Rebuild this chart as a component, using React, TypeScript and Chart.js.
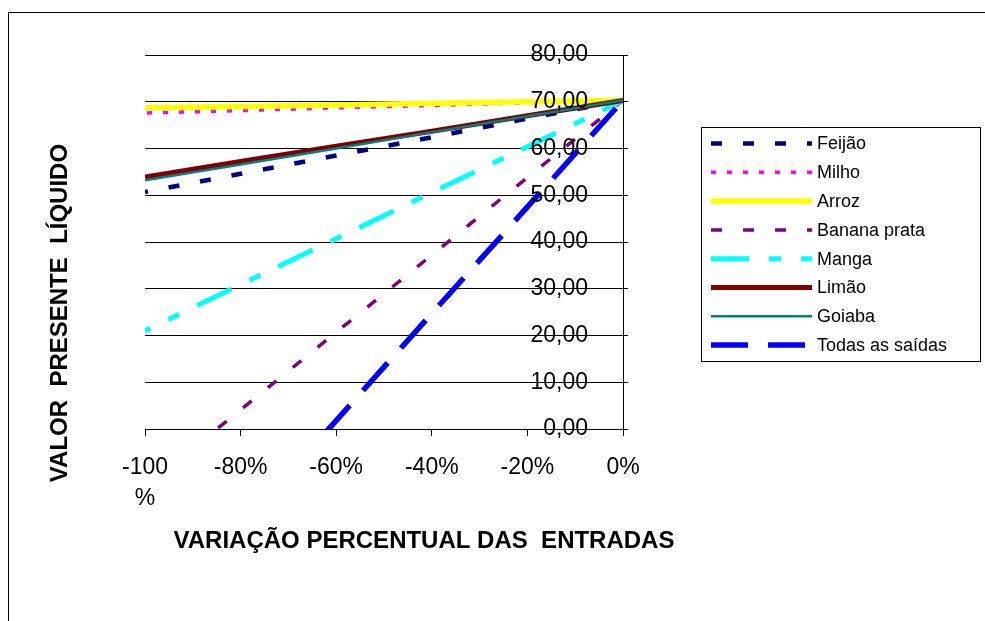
import React, { useEffect, useRef } from 'react';
import { Chart, registerables } from 'chart.js';

Chart.register(...registerables);

// Percentage change of the inflows (x axis)
const variacao = [-100, -80, -60, -40, -20, 0];
const xTickLabels: (string | string[])[] = [['-100', '%'], '-80%', '-60%', '-40%', '-20%', '0%'];

// Net present value for each scenario, one value per point of `variacao`
const feijao = [50.7, 54.6, 58.5, 62.4, 66.4, 70.3];
const milho = [67.6, 68.1, 68.7, 69.2, 69.8, 70.3];
const arroz = [68.7, 69.0, 69.3, 69.7, 70.0, 70.3];
const bananaPrata = [-12.4, 4.1, 20.7, 37.2, 53.8, 70.3];
const manga = [21.0, 30.9, 40.7, 50.6, 60.4, 70.3];
const limao = [53.9, 57.2, 60.5, 63.7, 67.0, 70.3];
const goiaba = [53.2, 56.6, 60.0, 63.5, 66.9, 70.3];
const todasSaidas = [-43.9, -21.0, 1.8, 24.7, 47.5, 70.3];

const FONT = '"Liberation Sans", Arial, sans-serif';

const series = [
  { label: 'Feijão', values: feijao, color: '#000080', width: 4.5, dash: [11, 21], offset: 8 },
  { label: 'Milho', values: milho, color: '#FF00FF', width: 3.5, dash: [5, 11], offset: 14 },
  { label: 'Arroz', values: arroz, color: '#FFFF00', width: 5.5, dash: [] as number[], offset: 0 },
  { label: 'Banana prata', values: bananaPrata, color: '#800080', width: 3.5, dash: [11, 21], offset: 2 },
  { label: 'Manga', values: manga, color: '#00FFFF', width: 5, dash: [38, 20, 12, 20], offset: 32 },
  { label: 'Limão', values: limao, color: '#800000', width: 5, dash: [] as number[], offset: 0 },
  { label: 'Goiaba', values: goiaba, color: '#008080', width: 2.5, dash: [] as number[], offset: 0 },
  { label: 'Todas as saídas', values: todasSaidas, color: '#0000FF', width: 5.5, dash: [37, 20], offset: 15 },
];

// Outer frame of the chart object
const framePlugin = {
  id: 'frame',
  beforeDraw(chart: Chart) {
    const ctx = chart.ctx;
    ctx.save();
    ctx.strokeStyle = '#000';
    ctx.lineWidth = 1;
    ctx.strokeRect(8.5, 12.5, 1200, 1000);
    ctx.restore();
  },
};

// Axis titles
const titlesPlugin = {
  id: 'axisTitles',
  afterDraw(chart: Chart) {
    const ctx = chart.ctx;
    ctx.save();
    ctx.fillStyle = '#000';
    ctx.font = `bold 24px ${FONT}`;
    ctx.textAlign = 'center';
    ctx.textBaseline = 'middle';
    ctx.fillText('VARIAÇÃO PERCENTUAL DAS  ENTRADAS', 424, 541);
    ctx.translate(60, 313);
    ctx.rotate(-Math.PI / 2);
    ctx.fillText('VALOR  PRESENTE  LÍQUIDO', 0, 0);
    ctx.restore();
  },
};

// Boxed legend with line samples on the right
const legendPlugin = {
  id: 'boxLegend',
  afterDraw(chart: Chart) {
    const ctx = chart.ctx;
    ctx.save();
    ctx.strokeStyle = '#000';
    ctx.lineWidth = 1;
    ctx.strokeRect(701.5, 127.5, 279, 234);
    ctx.font = `18px ${FONT}`;
    ctx.textAlign = 'left';
    ctx.textBaseline = 'middle';
    chart.data.datasets.forEach((ds: any, i: number) => {
      const y = 143.5 + i * 28.8;
      ctx.save();
      ctx.strokeStyle = ds.borderColor;
      ctx.lineWidth = ds.borderWidth;
      ctx.setLineDash(ds.borderDash || []);
      ctx.lineCap = 'butt';
      ctx.beginPath();
      ctx.moveTo(711, y);
      ctx.lineTo(812, y);
      ctx.stroke();
      ctx.restore();
      ctx.fillStyle = '#000';
      ctx.fillText(ds.label, 817, y + 1);
    });
    ctx.restore();
  },
};

export default function App() {
  const canvasRef = useRef<HTMLCanvasElement | null>(null);

  useEffect(() => {
    const canvas = canvasRef.current;
    if (!canvas) return;
    const chart = new Chart(canvas, {
      type: 'line',
      data: {
        datasets: series.map((s, i) => ({
          label: s.label,
          data: variacao.map((x, j) => ({ x, y: s.values[j] })),
          borderColor: s.color,
          backgroundColor: s.color,
          borderWidth: s.width,
          borderDash: s.dash,
          borderDashOffset: s.offset,
          borderCapStyle: 'butt',
          pointRadius: 0,
          pointHoverRadius: 0,
          fill: false,
          tension: 0,
          clip: 0,
          order: series.length - i,
        })),
      },
      options: {
        responsive: false,
        animation: false,
        events: [],
        layout: { padding: { left: 145, top: 55, right: 354, bottom: 82 } },
        plugins: {
          legend: { display: false },
          tooltip: { enabled: false },
          title: { display: false },
        },
        scales: {
          x: {
            type: 'linear',
            position: 'bottom',
            min: -100,
            max: 0,
            afterFit: (s: any) => {
              s.height = 110;
            },
            ticks: {
              stepSize: 20,
              color: '#000',
              font: { family: FONT, size: 23, lineHeight: 1.35 },
              padding: 16,
              maxRotation: 0,
              autoSkip: false,
              callback: (_v: any, i: number) => xTickLabels[i],
            },
            grid: { drawOnChartArea: false, drawTicks: true, tickLength: 7, color: '#000' },
            border: { display: true, color: '#000', width: 1 },
          },
          y: {
            type: 'linear',
            position: 'right',
            min: 0,
            max: 80,
            afterFit: (s: any) => {
              s.width = 8;
            },
            ticks: {
              stepSize: 10,
              mirror: true,
              padding: -35,
              z: 1,
              color: '#000',
              font: { family: FONT, size: 23 },
              callback: (v: any) => Number(v).toFixed(2).replace('.', ','),
            },
            grid: { color: '#000', lineWidth: 1, drawTicks: true, tickLength: 5 },
            border: { display: true, color: '#000', width: 1 },
          },
        },
      },
      plugins: [framePlugin, titlesPlugin, legendPlugin],
    } as any);
    return () => chart.destroy();
  }, []);

  return (
    <div style={{ position: 'fixed', left: 0, top: 0, width: 985, height: 621, background: '#fff' }}>
      <canvas ref={canvasRef} width={985} height={621} style={{ display: 'block', width: 985, height: 621 }} />
    </div>
  );
}
